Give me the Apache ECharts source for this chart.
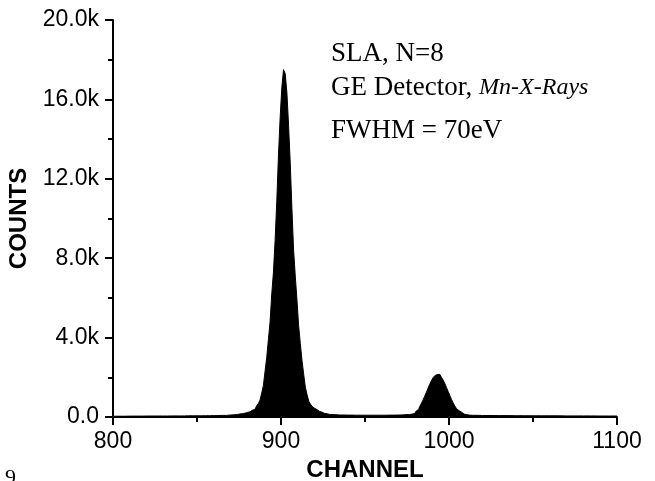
<!DOCTYPE html>
<html>
<head>
<meta charset="utf-8">
<script src="https://cdn.jsdelivr.net/npm/echarts@6/dist/echarts.min.js"></script>
<style>
  html, body { margin: 0; padding: 0; background: #fff; }
  #chart { width: 655px; height: 481px; }
</style>
</head>
<body>
<div id="chart"></div>
<script>
// spectrum: channel -> counts
const channels = [
  800, 805, 810, 815, 820, 825, 830, 835, 840, 845, 850, 855, 860, 865, 870, 872, 874,
  875, 876, 877, 878, 879, 880, 881, 882, 883, 884, 885, 886, 887, 888, 889, 890,
  891, 892, 893, 894, 895, 896, 897, 898, 899, 900, 901, 902, 903, 904, 905, 906,
  907, 908, 909, 910, 911, 912, 913, 914, 915, 916, 917, 918, 919, 920, 921, 922,
  923, 924, 925, 926, 927, 928, 929, 930, 932, 935, 940, 945, 950, 955, 960, 965,
  970, 973, 975, 976, 977, 978, 979, 980, 981, 982, 983, 984, 985, 986, 987, 988,
  989, 990, 991, 992, 993, 994, 995, 996, 997, 998, 999, 1000, 1001, 1002, 1003,
  1004, 1005, 1006, 1007, 1008, 1009, 1010, 1011, 1012, 1014, 1020, 1030, 1040,
  1050, 1060, 1070, 1080, 1090, 1100
];
const counts = [
  40, 40, 45, 45, 50, 50, 50, 55, 55, 60, 60, 65, 70, 80, 100, 110, 130,
  150, 160, 170, 190, 200, 230, 260, 300, 340, 390, 460, 560, 680, 850, 1200, 1580,
  2300, 3000, 3900, 4800, 6200, 7300, 8900, 10900, 13200, 15100, 16600, 17500, 17300, 16350, 14700, 12800,
  10500, 8400, 7100, 5900, 4600, 3700, 2850, 2150, 1500, 1130, 800, 650, 540, 440, 370, 320,
  280, 240, 210, 180, 160, 145, 130, 120, 110, 100, 95, 90, 90, 90, 90, 95,
  100, 110, 120, 120, 130, 145, 175, 220, 300, 395, 520, 675, 845, 1040, 1240, 1450,
  1645, 1825, 1975, 2080, 2140, 2150, 2100, 2000, 1860, 1685, 1490, 1285, 1080, 885, 705,
  550, 420, 320, 240, 180, 145, 120, 105, 95, 85, 75, 70, 65,
  60, 60, 55, 55, 50, 50
];

const annotation = ['SLA, N=8', 'GE Detector, ', 'Mn-X-Rays', 'FWHM = 70eV'];

const sans = 'Liberation Sans, Arial, sans-serif';
const serif = 'Liberation Serif, Times New Roman, serif';

const chart = echarts.init(document.getElementById('chart'));

chart.setOption({
  animation: false,
  backgroundColor: '#fff',
  grid: { left: 113, right: 38, top: 20, bottom: 64, outerBoundsMode: 'none' },
  xAxis: {
    type: 'value',
    min: 800,
    max: 1100,
    interval: 100,
    name: 'CHANNEL',
    nameLocation: 'middle',
    nameGap: 34,
    nameTextStyle: { fontFamily: sans, fontWeight: 'bold', fontSize: 24, color: '#000' },
    axisLine: { lineStyle: { color: '#000', width: 2 } },
    axisTick: { length: 8, lineStyle: { color: '#000', width: 2 } },
    minorTick: { show: true, splitNumber: 2, length: 5, lineStyle: { color: '#000', width: 2 } },
    axisLabel: { fontFamily: sans, fontSize: 23, color: '#000', margin: 13, formatter: v => String(v) },
    splitLine: { show: false }
  },
  yAxis: {
    type: 'value',
    min: 0,
    max: 20000,
    interval: 4000,
    name: 'COUNTS',
    nameLocation: 'middle',
    nameGap: 72,
    nameTextStyle: { fontFamily: sans, fontWeight: 'bold', fontSize: 24, color: '#000' },
    axisLine: { show: true, lineStyle: { color: '#000', width: 2 } },
    axisTick: { show: true, length: 8, lineStyle: { color: '#000', width: 2 } },
    minorTick: { show: true, splitNumber: 2, length: 5, lineStyle: { color: '#000', width: 2 } },
    axisLabel: {
      fontFamily: sans, fontSize: 23, color: '#000', margin: 14,
      formatter: v => v === 0 ? '0.0' : (v / 1000).toFixed(1) + 'k'
    },
    splitLine: { show: false }
  },
  graphic: [
    { type: 'text', left: 331, top: 40, style: { text: annotation[0], font: '27px ' + serif, fill: '#000' } },
    {
      type: 'text', left: 331, top: 74,
      style: {
        text: '{n|' + annotation[1] + '}{i|' + annotation[2] + '}',
        rich: {
          n: { font: '27px ' + serif, fill: '#000' },
          i: { font: 'italic 24px ' + serif, fill: '#000', verticalAlign: 'bottom', padding: [0, 0, 1, 0] }
        }
      }
    },
    { type: 'text', left: 331, top: 117, style: { text: annotation[3], font: '27px ' + serif, fill: '#000' } },
    { type: 'text', left: 5, top: 467, style: { text: '9', font: '22px ' + serif, fill: '#000' } }
  ],
  series: [{
    type: 'line',
    step: 'middle',
    symbol: 'none',
    data: channels.map((c, i) => [c, counts[i]]),
    lineStyle: { color: '#000', width: 1 },
    areaStyle: { color: '#000', opacity: 1 },
    z: 1
  }]
});
</script>
</body>
</html>
